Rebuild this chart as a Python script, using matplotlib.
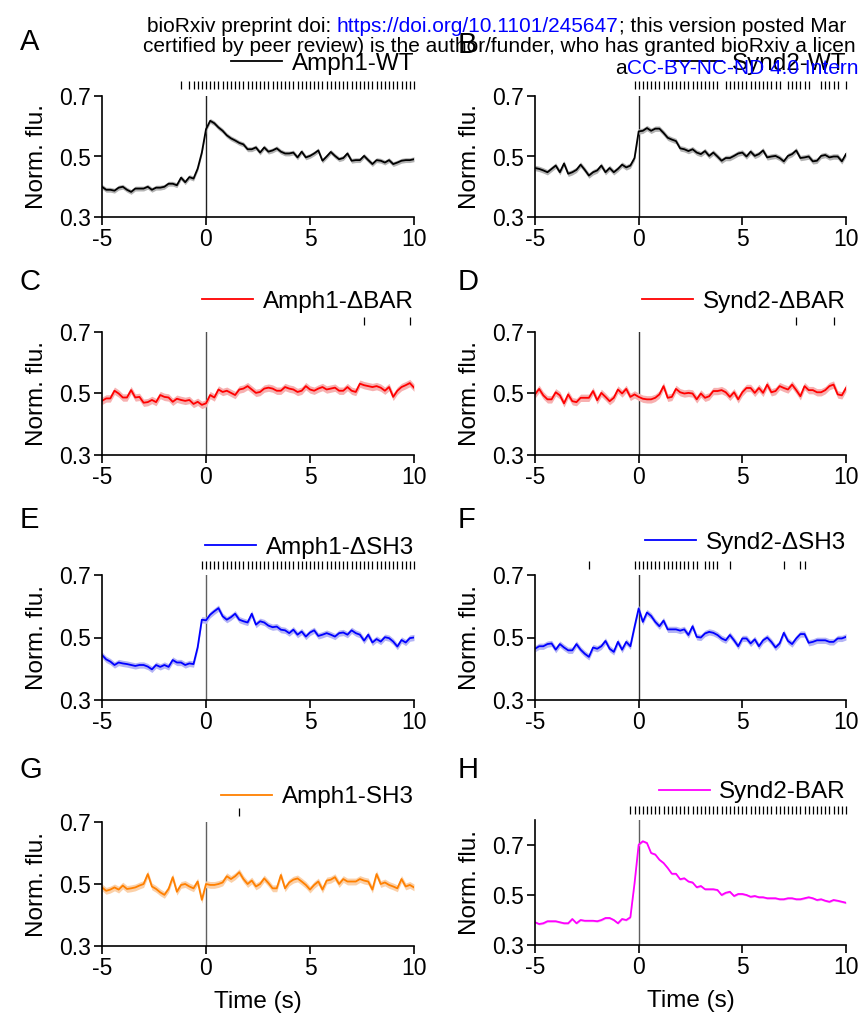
import numpy as np
import matplotlib.pyplot as plt
import matplotlib.transforms as mtransforms

plt.rcParams['font.family'] = ['Liberation Sans', 'DejaVu Sans']

# time axis (s), 0.2 s sampling
t = np.round(np.arange(-5, 10.01, 0.2), 1)

# ---------------- traces (mean normalized fluorescence) ----------------
amph1_wt = [0.40, 0.39, 0.39, 0.387, 0.397, 0.40, 0.39, 0.383, 0.394, 0.394,
            0.394, 0.40, 0.39, 0.397, 0.397, 0.40, 0.41, 0.41, 0.405, 0.43,
            0.415, 0.432, 0.427, 0.46, 0.513, 0.59, 0.618, 0.61, 0.596, 0.585,
            0.57, 0.56, 0.553, 0.545, 0.54, 0.524, 0.524, 0.53, 0.513, 0.53,
            0.516, 0.52, 0.527, 0.516, 0.51, 0.51, 0.513, 0.497, 0.516, 0.497,
            0.502, 0.51, 0.52, 0.486, 0.50, 0.515, 0.502, 0.491, 0.495, 0.51,
            0.486, 0.488, 0.488, 0.502, 0.488, 0.475, 0.488, 0.486, 0.48, 0.488,
            0.475, 0.48, 0.486, 0.488, 0.488, 0.491]
synd2_wt = [0.462, 0.459, 0.454, 0.448, 0.459, 0.47, 0.448, 0.477, 0.443, 0.448,
            0.456, 0.473, 0.456, 0.437, 0.448, 0.454, 0.47, 0.448, 0.462, 0.448,
            0.459, 0.473, 0.464, 0.47, 0.495, 0.583, 0.585, 0.594, 0.585, 0.592,
            0.592, 0.578, 0.562, 0.556, 0.551, 0.527, 0.524, 0.518, 0.524, 0.513,
            0.508, 0.518, 0.502, 0.513, 0.50, 0.486, 0.495, 0.495, 0.502, 0.51,
            0.513, 0.50, 0.516, 0.502, 0.508, 0.52, 0.497, 0.50, 0.502, 0.495,
            0.484, 0.502, 0.508, 0.52, 0.495, 0.497, 0.50, 0.484, 0.486, 0.502,
            0.505, 0.497, 0.50, 0.50, 0.484, 0.508]
amph1_dbar = [0.476, 0.484, 0.484, 0.509, 0.50, 0.487, 0.487, 0.511, 0.487, 0.489,
              0.47, 0.472, 0.479, 0.472, 0.495, 0.489, 0.487, 0.473, 0.483, 0.479,
              0.476, 0.479, 0.466, 0.473, 0.463, 0.468, 0.495, 0.487, 0.513, 0.505,
              0.509, 0.502, 0.495, 0.513, 0.516, 0.524, 0.513, 0.502, 0.505, 0.516,
              0.519, 0.516, 0.509, 0.509, 0.521, 0.516, 0.513, 0.505, 0.509, 0.524,
              0.513, 0.509, 0.516, 0.521, 0.513, 0.516, 0.519, 0.509, 0.509, 0.521,
              0.509, 0.505, 0.532, 0.527, 0.524, 0.521, 0.524, 0.519, 0.509, 0.521,
              0.489, 0.509, 0.521, 0.527, 0.534, 0.519]
synd2_dbar = [0.497, 0.515, 0.494, 0.481, 0.481, 0.504, 0.494, 0.468, 0.497, 0.475,
              0.472, 0.486, 0.486, 0.486, 0.508, 0.478, 0.502, 0.489, 0.475, 0.486,
              0.513, 0.50, 0.515, 0.489, 0.497, 0.489, 0.483, 0.481, 0.481, 0.486,
              0.497, 0.524, 0.486, 0.489, 0.515, 0.504, 0.50, 0.502, 0.50, 0.481,
              0.50, 0.486, 0.491, 0.508, 0.508, 0.511, 0.504, 0.489, 0.504, 0.481,
              0.504, 0.518, 0.518, 0.502, 0.518, 0.502, 0.529, 0.504, 0.508, 0.524,
              0.518, 0.513, 0.529, 0.511, 0.491, 0.524, 0.511, 0.511, 0.504, 0.504,
              0.511, 0.524, 0.529, 0.497, 0.494, 0.518]
amph1_dsh3 = [0.444, 0.43, 0.423, 0.412, 0.42, 0.417, 0.415, 0.412, 0.409, 0.412,
              0.412, 0.407, 0.398, 0.412, 0.406, 0.412, 0.406, 0.428, 0.42, 0.42,
              0.412, 0.417, 0.415, 0.469, 0.557, 0.555, 0.573, 0.584, 0.594, 0.568,
              0.557, 0.565, 0.576, 0.557, 0.552, 0.548, 0.576, 0.541, 0.552, 0.548,
              0.538, 0.533, 0.535, 0.525, 0.523, 0.514, 0.525, 0.509, 0.519, 0.503,
              0.516, 0.523, 0.505, 0.509, 0.514, 0.509, 0.503, 0.514, 0.516, 0.509,
              0.523, 0.514, 0.509, 0.49, 0.509, 0.484, 0.495, 0.487, 0.501, 0.498,
              0.487, 0.471, 0.492, 0.484, 0.498, 0.50]
synd2_dsh3 = [0.464, 0.472, 0.472, 0.479, 0.481, 0.461, 0.479, 0.468, 0.459, 0.459,
              0.479, 0.461, 0.448, 0.438, 0.468, 0.464, 0.472, 0.489, 0.464, 0.454,
              0.486, 0.461, 0.486, 0.472, 0.534, 0.593, 0.55, 0.58, 0.569, 0.55,
              0.536, 0.554, 0.526, 0.526, 0.526, 0.522, 0.526, 0.508, 0.536, 0.502,
              0.50, 0.513, 0.518, 0.515, 0.508, 0.497, 0.491, 0.508, 0.491, 0.472,
              0.497, 0.497, 0.481, 0.494, 0.472, 0.491, 0.50, 0.486, 0.468, 0.481,
              0.515, 0.489, 0.479, 0.497, 0.511, 0.511, 0.483, 0.486, 0.491, 0.491,
              0.491, 0.486, 0.486, 0.497, 0.497, 0.502]
amph1_sh3 = [0.489, 0.478, 0.482, 0.489, 0.482, 0.495, 0.484, 0.486, 0.489, 0.495,
             0.50, 0.532, 0.492, 0.484, 0.473, 0.465, 0.484, 0.522, 0.475, 0.497,
             0.50, 0.492, 0.486, 0.508, 0.449, 0.50, 0.497, 0.497, 0.50, 0.505,
             0.525, 0.516, 0.525, 0.538, 0.516, 0.50, 0.511, 0.492, 0.50, 0.518,
             0.503, 0.486, 0.486, 0.529, 0.486, 0.505, 0.514, 0.518, 0.508, 0.497,
             0.482, 0.497, 0.508, 0.482, 0.511, 0.514, 0.522, 0.50, 0.516, 0.508,
             0.508, 0.508, 0.516, 0.511, 0.508, 0.482, 0.532, 0.50, 0.505, 0.497,
             0.492, 0.486, 0.516, 0.492, 0.497, 0.489]
synd2_bar = [0.391, 0.384, 0.387, 0.395, 0.395, 0.395, 0.391, 0.387, 0.387, 0.404,
             0.387, 0.40, 0.397, 0.397, 0.397, 0.395, 0.40, 0.408, 0.408, 0.40,
             0.387, 0.404, 0.40, 0.411, 0.546, 0.701, 0.715, 0.708, 0.668, 0.662,
             0.641, 0.628, 0.608, 0.585, 0.585, 0.563, 0.567, 0.554, 0.55, 0.531,
             0.536, 0.523, 0.523, 0.523, 0.52, 0.50, 0.509, 0.513, 0.496, 0.504,
             0.504, 0.50, 0.493, 0.496, 0.491, 0.491, 0.487, 0.487, 0.487, 0.483,
             0.483, 0.487, 0.487, 0.483, 0.483, 0.487, 0.491, 0.487, 0.48, 0.483,
             0.477, 0.473, 0.48, 0.477, 0.473, 0.469]

# SEM half-widths of the shaded bands
sem = {'A': 0.008, 'B': 0.009, 'C': 0.012, 'D': 0.012,
       'E': 0.010, 'F': 0.010, 'G': 0.011, 'H': 0.004}

# significance marks (time points, s)
sig_A = [-1.2] + list(np.round(np.arange(-0.8, 10.01, 0.2), 1))
sig_B = (list(np.round(np.arange(-0.2, 3.81, 0.2), 1)) + list(np.round(np.arange(4.2, 6.81, 0.2), 1))
         + list(np.round(np.arange(7.2, 8.21, 0.2), 1)) + list(np.round(np.arange(8.8, 9.61, 0.2), 1)) + [10.0])
sig_C = [7.6, 9.8]
sig_D = [7.6, 9.4]
sig_E = list(np.round(np.arange(-0.2, 10.01, 0.2), 1))
sig_F = ([-2.4] + list(np.round(np.arange(-0.2, 2.81, 0.2), 1)) + [3.2, 3.4, 3.6, 3.8, 4.4, 7.0, 7.8, 8.0])
sig_G = [1.6]
sig_H = list(np.round(np.arange(-0.4, 10.01, 0.2), 1))

labels = {'A': 'Amph1-WT', 'B': 'Synd2-WT', 'C': 'Amph1-ΔBAR', 'D': 'Synd2-ΔBAR',
          'E': 'Amph1-ΔSH3', 'F': 'Synd2-ΔSH3', 'G': 'Amph1-SH3', 'H': 'Synd2-BAR'}

panels = [
    # key, data, sig, line colour, band colour, (left, top, right, bottom) px, ymax, legend offset px, vline colour
    ('A', amph1_wt, sig_A, 'black', '#b3b3b3', (102, 96, 414, 217), 0.7, 32, '#202020'),
    ('B', synd2_wt, sig_B, 'black', '#b3b3b3', (535, 96, 846, 217), 0.7, 32, '#202020'),
    ('C', amph1_dbar, sig_C, '#ff0000', '#f7b0b0', (102, 332, 414, 455), 0.7, 30, '#505050'),
    ('D', synd2_dbar, sig_D, '#ff0000', '#f7b0b0', (535, 332, 846, 455), 0.7, 30, '#303030'),
    ('E', amph1_dsh3, sig_E, '#0000ff', '#b4b4f5', (102, 575, 414, 700), 0.7, 27, '#606060'),
    ('F', synd2_dsh3, sig_F, '#0000ff', '#b4b4f5', (535, 575, 846, 700), 0.7, 32, '#303030'),
    ('G', amph1_sh3, sig_G, '#ff8000', '#fbd0a8', (102, 822, 414, 946), 0.7, 25, '#606060'),
    ('H', synd2_bar, sig_H, '#ff00ff', '#f7b0f7', (535, 820, 846, 945), 0.8, 28, '#606060'),
]

W, H = 862, 1022
fig = plt.figure(figsize=(W / 100, H / 100), dpi=100)
fs = 16.5
fs_lab = 17.5

for key, y, sig, col, band, (l, tp, r, b), ymax, leg_off, vcol in panels:
    ax = fig.add_axes([l / W, 1 - b / H, (r - l) / W, (b - tp) / H])
    y = np.array(y)
    s = sem[key]
    ax.fill_between(t, y - s, y + s, color=band, lw=0, zorder=1)
    ln, = ax.plot(t, y, color=col, lw=1.3, zorder=2, label=labels[key])
    ax.axvline(0, color=vcol, lw=1.0, zorder=0)
    ax.set_xlim(-5, 10)
    ax.set_ylim(0.3, ymax)
    ax.set_xticks([-5, 0, 5, 10])
    ax.set_xticklabels(['-5', '0', '5', '10'])
    ax.set_yticks([0.3, 0.5, 0.7])
    ax.set_yticklabels(['0.3', '0.5', '0.7'])
    for sp in ['top', 'right']:
        ax.spines[sp].set_visible(False)
    for sp in ['left', 'bottom']:
        ax.spines[sp].set_linewidth(1.2)
    ax.tick_params(direction='out', length=6, width=1.2, labelsize=fs, pad=2)
    ax.set_ylabel('Norm. flu.', fontsize=fs_lab, labelpad=8)
    if key in ('G', 'H'):
        ax.set_xlabel('Time (s)', fontsize=fs_lab, labelpad=8)

    hpx = b - tp
    trans = mtransforms.blended_transform_factory(ax.transData, ax.transAxes)
    ax.plot(sig, [1 + 10.5 / hpx] * len(sig), transform=trans, ls='none', marker='|',
            ms=6, mew=0.9, color='black', clip_on=False)

    ax.legend(handles=[ln], loc='center right', bbox_to_anchor=(1.0, 1 + leg_off / hpx),
              frameon=False, fontsize=fs_lab, handlelength=2.1, handletextpad=0.4,
              borderaxespad=0, borderpad=0)

    lx = 20 if key in 'ACEG' else 458
    ly = {'A': 42, 'B': 45, 'C': 282, 'D': 282, 'E': 520, 'F': 520, 'G': 770, 'H': 770}[key]
    fig.text(lx / W, 1 - ly / H, key, fontsize=21, ha='left', va='center')

# bioRxiv header overlay
renderer = fig.canvas.get_renderer()


def header_line(x_px, y_px, parts):
    x = x_px
    for txt, c in parts:
        tx = fig.text(x / W, 1 - y_px / H, txt, color=c, fontsize=15.0, ha='left', va='center',
                      family=['Liberation Sans Narrow', 'Liberation Sans'])
        x = tx.get_window_extent(renderer).x1


header_line(147, 27, [('bioRxiv preprint doi: ', 'black'),
                      ('https://doi.org/10.1101/245647', '#0000ff'),
                      ('; this version posted Mar', 'black')])
header_line(143, 47, [('certified by peer review) is the author/funder, who has granted bioRxiv a licen', 'black')])
header_line(615, 68, [('a', 'black'), ('CC-BY-NC-ND 4.0 Intern', '#0000ff')])

fig.savefig('out.png', dpi=100)
